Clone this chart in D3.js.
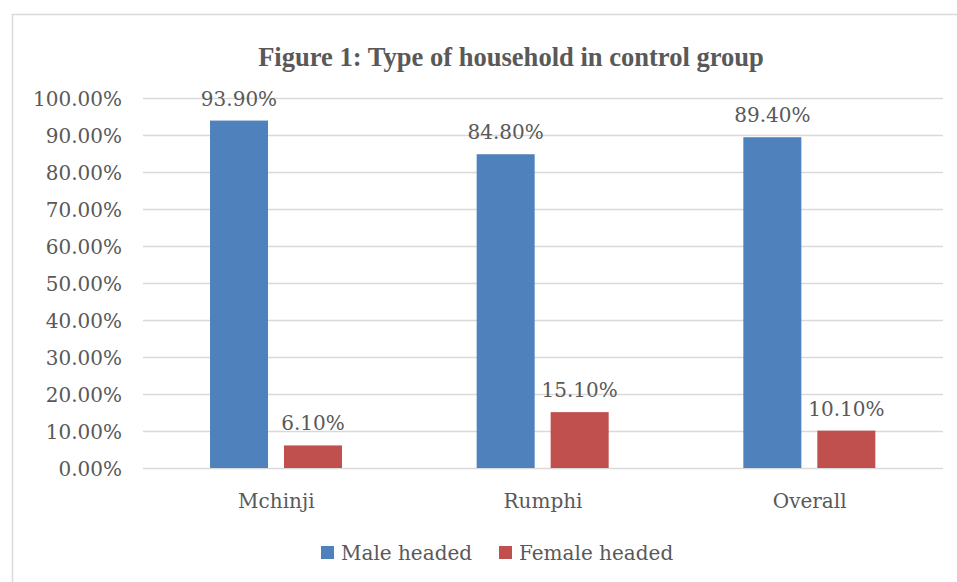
<!DOCTYPE html>
<html>
<head>
<meta charset="utf-8">
<script src="https://cdn.jsdelivr.net/npm/d3@7"></script>
<style>
  body { margin: 0; background: #fff; }
  text { font-family: "DejaVu Serif", serif; fill: #595959; }
</style>
</head>
<body>
<svg width="957" height="582"></svg>
<script>
var categories = ['Mchinji', 'Rumphi', 'Overall'];
var seriesNames = ['Male headed', 'Female headed'];
var maleValues = [0.939, 0.848, 0.894];
var femaleValues = [0.061, 0.151, 0.101];
var yTicks = [0, 0.1, 0.2, 0.3, 0.4, 0.5, 0.6, 0.7, 0.8, 0.9, 1.0];
var colors = ['#4F81BD', '#C0504D'];

var svg = d3.select('svg');

// chart area border
svg.append('rect')
    .attr('x', 12.5).attr('y', 14.5)
    .attr('width', 960).attr('height', 600)
    .attr('fill', 'none')
    .attr('stroke', '#D9D9D9')
    .attr('stroke-width', 1.5);

var xScale = d3.scaleBand().domain(categories).range([143, 943]);
var subScale = d3.scaleBand().domain(seriesNames).range([67, 199]).paddingInner(0.216);
var yScale = d3.scaleLinear().domain([0, 1]).range([468, 98]);

var yAxis = d3.axisLeft(yScale)
    .tickValues(yTicks)
    .tickFormat(d3.format('.2%'))
    .tickSize(-800)
    .tickPadding(21);

var gy = svg.append('g')
    .attr('class', 'y axis')
    .attr('transform', 'translate(143,0)')
    .call(yAxis);
gy.select('.domain').remove();
gy.selectAll('.tick line').attr('stroke', '#D9D9D9').attr('stroke-width', 1.5);
gy.selectAll('.tick text')
    .style('font-size', '20px')
    .attr('fill', '#595959')
    .attr('dy', '0.36em');

// title - wider serif squeezed to the reference width
var title = svg.append('text')
    .text('Figure 1: Type of household in control group')
    .attr('x', 511).attr('y', 66)
    .attr('text-anchor', 'middle')
    .style('font-family', '"Liberation Serif", serif')
    .style('font-weight', 'bold')
    .style('font-size', '22px');
var tw = title.node().getComputedTextLength();
title.style('font-size', (22 * 506 / tw) + 'px');

var series = [maleValues, femaleValues];

series.forEach(function(values, si) {
    var g = svg.append('g');
    g.selectAll('rect')
        .data(values)
        .enter().append('rect')
        .attr('x', function(d, i) { return xScale(categories[i]) + subScale(seriesNames[si]); })
        .attr('y', function(d) { return yScale(d); })
        .attr('width', subScale.bandwidth())
        .attr('height', function(d) { return yScale(0) - yScale(d); })
        .attr('fill', colors[si]);

    g.selectAll('text')
        .data(values)
        .enter().append('text')
        .text(function(d) { return d3.format('.2%')(d); })
        .attr('x', function(d, i) { return xScale(categories[i]) + subScale(seriesNames[si]) + subScale.bandwidth() / 2; })
        .attr('y', function(d) { return yScale(d) - 15; })
        .attr('text-anchor', 'middle')
        .style('font-size', '20px');
});

// category labels
svg.append('g').selectAll('text')
    .data(categories)
    .enter().append('text')
    .text(function(d) { return d; })
    .attr('x', function(d) { return xScale(d) + xScale.bandwidth() / 2; })
    .attr('y', 508)
    .attr('text-anchor', 'middle')
    .style('font-size', '20px');

// legend
var legendX = [321, 499];
var legend = svg.append('g');
seriesNames.forEach(function(name, i) {
    legend.append('rect')
        .attr('x', legendX[i]).attr('y', 546)
        .attr('width', 13).attr('height', 13)
        .attr('fill', colors[i]);
    legend.append('text')
        .text(name)
        .attr('x', legendX[i] + 20).attr('y', 560)
        .style('font-size', '20px');
});
</script>
</body>
</html>
